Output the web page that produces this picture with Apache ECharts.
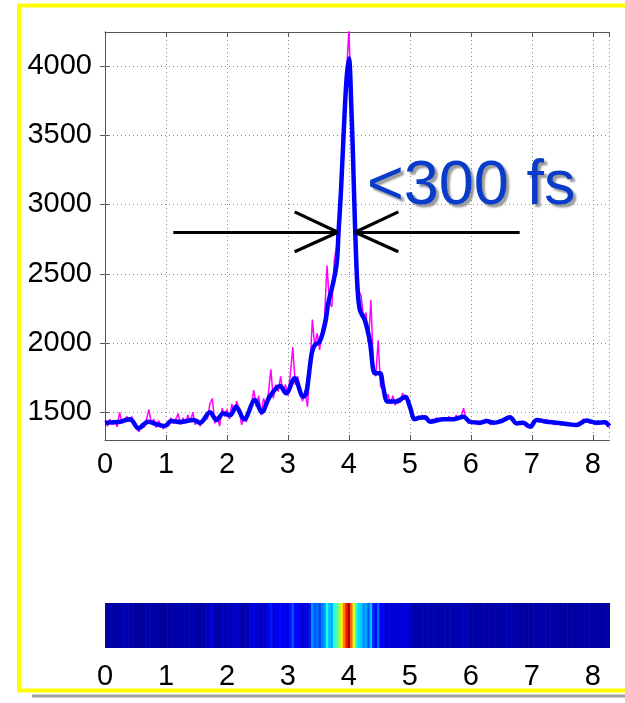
<!DOCTYPE html>
<html>
<head>
<meta charset="utf-8">
<script src="https://cdn.jsdelivr.net/npm/echarts@6/dist/echarts.min.js"></script>
<style>html,body{margin:0;padding:0;background:#fff;}#c{width:625px;height:703px;}</style>
</head>
<body>
<div id="c"></div>
<script>
// ---- data ----
const xTicks = [0, 1, 2, 3, 4, 5, 6, 7, 8];
const yTicks = [1500, 2000, 2500, 3000, 3500, 4000];
// raw signal (magenta), sampled every 0.04 starting at 0
const rawStep = 0.04;
const rawValues = [
1440,1400,1450,1410,1440,1395,1500,1420,1450,1470,1430,1470,1410,1380,1360,1420,1390,1450,1520,1420,
1450,1390,1440,1400,1380,1420,1400,1460,1420,1450,1490,1410,1460,1420,1480,1430,1500,1410,1450,1400,
1440,1470,1450,1560,1600,1420,1470,1400,1530,1470,1520,1450,1560,1500,1580,1520,1410,1470,1430,1520,
1560,1660,1540,1620,1480,1600,1550,1640,1810,1600,1700,1650,1760,1640,1700,1620,1780,1970,1700,1760,
1640,1580,1660,1540,1800,2170,1980,2070,1950,2100,2180,2560,2300,2260,2600,2700,2900,3300,3650,3950,
4260,3700,3150,2600,2380,2340,2180,2220,2000,2310,1850,1760,2020,1680,1720,1580,1630,1560,1620,1550,
1600,1570,1640,1590,1620,1560,1470,1440,1460,1450,1480,1450,1470,1430,1450,1440,1460,1440,1450,1460,
1440,1470,1450,1440,1480,1450,1470,1530,1450,1420,1440,1420,1440,1410,1430,1420,1450,1430,1410,1440,
1420,1430,1450,1430,1450,1460,1470,1440,1420,1430,1410,1430,1410,1390,1400,1420,1440,1450,1430,1450,
1420,1450,1420,1430,1410,1430,1420,1410,1430,1410,1420,1400,1410,1400,1420,1430,1450,1440,1430,1420,
1430,1410,1440,1420,1430,1420,1400,1390
];
// smoothed signal (blue)
const smoothT = [0,0.12,0.25,0.41,0.55,0.71,0.85,0.98,1.09,1.23,1.45,1.56,1.72,1.83,1.94,2.05,2.15,2.28,2.46,2.57,
2.70,2.87,2.97,3.11,3.25,3.30,3.39,3.44,3.52,3.61,3.66,3.74,3.80,3.83,3.87,3.92,3.96,4.00,4.04,4.07,
4.10,4.14,4.18,4.26,4.34,4.43,4.51,4.56,4.64,4.78,4.92,5.00,5.08,5.15,5.25,5.33,5.55,5.72,5.88,5.98,
6.15,6.26,6.37,6.50,6.64,6.75,6.86,6.97,7.08,7.24,7.40,7.57,7.73,7.89,8.06,8.20,8.27];
const smoothV = [1425,1428,1432,1450,1385,1432,1413,1401,1437,1430,1444,1425,1500,1444,1493,1478,1540,1450,1589,1500,
1613,1690,1637,1745,1613,1637,1926,1986,2009,2142,2286,2431,2575,2800,3100,3573,3900,4054,3700,3300,
2850,2406,2238,2166,2022,1781,1781,1685,1577,1577,1613,1540,1450,1460,1464,1432,1450,1450,1468,1432,
1425,1437,1425,1437,1464,1420,1425,1396,1444,1432,1425,1416,1408,1440,1425,1428,1401];
// FWHM arrow annotation (data coordinates)
const arrowLevel = 2800;
const arrowLeft = {tail: 1.12, tip: 3.82, barb: 3.11};
const arrowRight = {tail: 6.80, tip: 4.10, barb: 4.81};
const barbHi = 2947, barbLo = 2659;
const annotation = '<300 fs';

// ---- build ----
const rawData = rawValues.map((v, i) => [+(i * rawStep).toFixed(2), v]);
const smoothData = smoothT.map((t, i) => [t, smoothV[i]]);
const XMAX = 8.27, YMIN = 1300, YMAX = 4245;
const FONT = 'Liberation Sans, Arial, sans-serif';
const GRID_COLOR = '#8a8a8a';

function arrowLines(a) {
  return [
    [{coord: [a.tail, arrowLevel]}, {coord: [a.tip, arrowLevel]}],
    [{coord: [a.barb, barbHi]}, {coord: [a.tip, arrowLevel]}],
    [{coord: [a.barb, barbLo]}, {coord: [a.tip, arrowLevel]}]
  ];
}

const chart = echarts.init(document.getElementById('c'), null, {renderer: 'canvas'});
const tickStyle = {show: true, inside: true, length: 5, lineStyle: {color: '#555', width: 1}};
const yTickStyle = Object.assign({}, tickStyle, {customValues: yTicks});
const axLine = {show: true, lineStyle: {color: '#555', width: 1}};
const labelStyle = {fontSize: 29, color: '#000', fontFamily: FONT};
const option = {
  animation: false,
  backgroundColor: '#fff',
  grid: [
    {left: 105, right: 15.7, top: 32, height: 408},
    {left: 105, right: 15.7, top: 603, height: 45}
  ],
  xAxis: [
    {type: 'value', gridIndex: 0, min: 0, max: XMAX, interval: 1, position: 'bottom',
     axisLine: axLine, axisTick: tickStyle,
     axisLabel: Object.assign({margin: 10, showMaxLabel: false}, labelStyle),
     splitLine: {show: true, lineStyle: {color: GRID_COLOR, type: [1, 3], width: 1}}},
    {type: 'value', gridIndex: 0, min: 0, max: XMAX, interval: 1, position: 'top',
     axisLine: axLine, axisTick: tickStyle, axisLabel: {show: false}, splitLine: {show: false}},
    {type: 'value', gridIndex: 1, min: 0, max: XMAX, interval: 1,
     axisLine: {show: false}, axisTick: {show: false},
     axisLabel: Object.assign({margin: 14, showMaxLabel: false}, labelStyle),
     splitLine: {show: false}}
  ],
  yAxis: [
    {type: 'value', gridIndex: 0, min: YMIN, max: YMAX, position: 'left',
     axisLine: axLine, axisTick: yTickStyle,
     axisLabel: Object.assign({margin: 13, customValues: yTicks, formatter: v => String(v)}, labelStyle),
     splitLine: {show: false}},
    {type: 'value', gridIndex: 0, min: YMIN, max: YMAX, position: 'right',
     axisLine: axLine, axisTick: yTickStyle, axisLabel: {show: false}, splitLine: {show: false}},
    {type: 'value', gridIndex: 1, min: 0, max: 1, show: false}
  ],
  visualMap: {
    show: false, type: 'continuous', seriesIndex: 2, dimension: 1, min: 1350, max: 4400,
    inRange: {color: ['#00008f', '#0000ff', '#0080ff', '#00ffff', '#80ff80', '#ffff00', '#ff8000', '#ff0000', '#800000']}
  },
  series: [
    {type: 'line', xAxisIndex: 0, yAxisIndex: 0, data: rawData, showSymbol: false, symbol: 'none',
     lineStyle: {color: '#ff00ff', width: 1.5}, clip: true, z: 2,
     markLine: {silent: true, symbol: 'none', label: {show: false}, z: 1,
       lineStyle: {color: GRID_COLOR, width: 1, type: [1, 3]},
       data: yTicks.map(v => ({yAxis: v}))}},
    {type: 'line', xAxisIndex: 0, yAxisIndex: 0, data: smoothData, showSymbol: false, symbol: 'none',
     smooth: 0.35, lineStyle: {color: '#0000ff', width: 4.5}, clip: true, z: 3,
     markLine: {silent: true, symbol: 'none', label: {show: false},
       lineStyle: {color: '#000', width: 3.2, type: 'solid'},
       data: arrowLines(arrowLeft).concat(arrowLines(arrowRight))}},
    {type: 'custom', xAxisIndex: 2, yAxisIndex: 2, data: rawData, clip: true,
     renderItem: function (params, api) {
       const t = api.value(0);
       const p0 = api.coord([t - rawStep / 2, 1]);
       const p1 = api.coord([t + rawStep / 2, 0]);
       return {type: 'rect', shape: {x: p0[0], y: p0[1], width: p1[0] - p0[0] + 0.6, height: p1[1] - p0[1]},
               style: {fill: api.visual('color')}};
     }}
  ],
  graphic: [
    {type: 'line', shape: {x1: 32, y1: 696, x2: 625, y2: 696}, style: {stroke: '#a0a0a0', lineWidth: 3}, z: 0},
    {type: 'rect', shape: {x: 19, y: 5.5, width: 700, height: 685}, style: {fill: null, stroke: '#ffff00', lineWidth: 4}, z: 1},
    {type: 'text', x: 367, y: 187, style: {text: annotation, font: '63px ' + FONT, fill: '#0a3ccc',
      verticalAlign: 'middle', align: 'left',
      textShadowColor: 'rgba(120,120,120,0.75)', textShadowOffsetX: 3, textShadowOffsetY: 3, textShadowBlur: 2}, z: 10}
  ]
};
chart.setOption(option);
</script>
</body>
</html>
